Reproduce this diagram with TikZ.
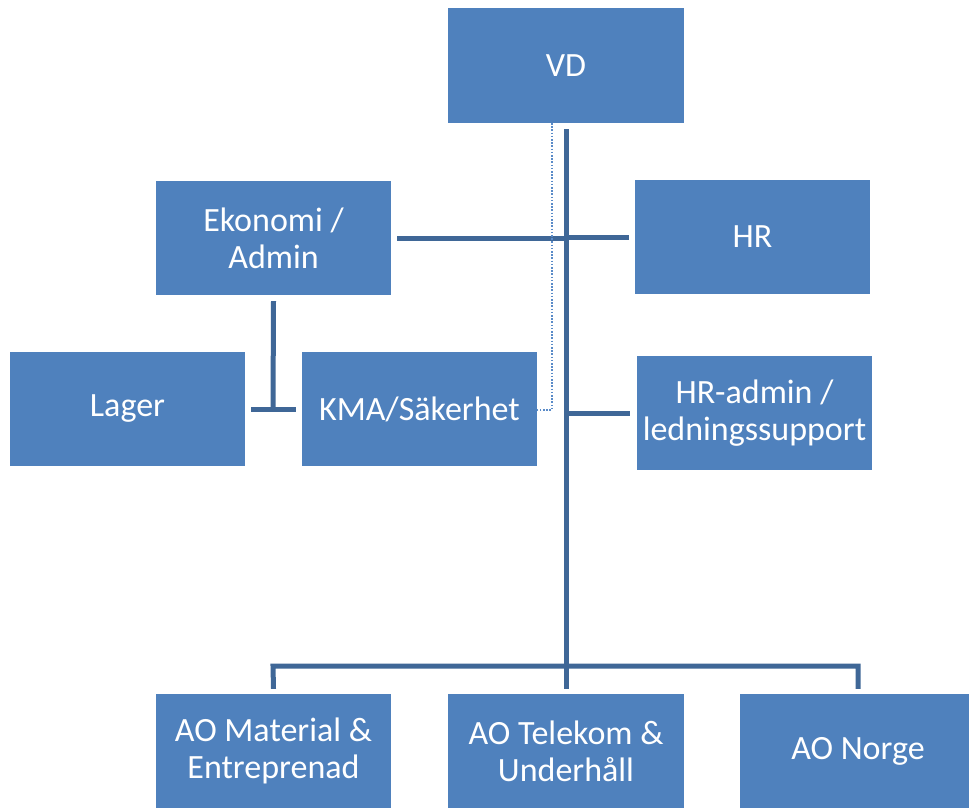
\documentclass[tikz,border=0pt]{standalone}
\usepackage{fontspec}
\setmainfont{Carlito}
\definecolor{boxblue}{HTML}{4F81BD}
\definecolor{lineblue}{HTML}{3F6797}
\definecolor{dotblue}{HTML}{5A8BC8}
\begin{document}
\begin{tikzpicture}[x=1pt,y=-1pt,
  orgbox/.style={fill=boxblue,draw=none,text=white,minimum width=235pt,minimum height=114pt,align=center,font=\fontsize{34}{37}\selectfont,inner sep=0pt},
  conn/.style={draw=lineblue,line width=5pt},
  dotconn/.style={draw=dotblue,line width=2pt,dash pattern=on 1.6pt off 1.6pt}]
\useasboundingbox (0,0) rectangle (969,807);
\node[orgbox,minimum width=236pt,minimum height=115pt] (vd) at (566,65.5) {VD};
\node[orgbox] (eko) at (273.5,238) {Ekonomi /\\Admin};
\node[orgbox] (hr) at (752.5,237) {HR};
\node[orgbox] (lager) at (127.5,409) {Lager};
\node[orgbox] (kma) at (419.5,409) {KMA/Säkerhet};
\node[orgbox] (hradm) at (754.5,413) {HR-admin /\\ledningssupport};
\node[orgbox] (aomat) at (273.5,751) {AO Material \&\\Entreprenad};
\node[orgbox,minimum width=236pt] (aotel) at (566,751) {AO Telekom \&\\Underhåll};
\node[orgbox,minimum width=236pt] (aonor) at (858,751) {AO Norge};
% junction coordinates
\coordinate (jtop) at (566,129);
\coordinate (jeko) at (566,238);
\coordinate (jhr) at (566,237);
\coordinate (jhra) at (566,413);
\coordinate (jbl) at (273,666);
\coordinate (jbr) at (858,666);
\coordinate (jeb) at (273,409);
\coordinate (dtop) at (552,123);
\coordinate (dcorner) at (552,410);
% main trunk
\draw[conn] (jtop) -- ([yshift=5pt]aotel.north);
\draw[conn] ([xshift=6pt]eko.east) -- (jeko);
\draw[conn] (jhr) -- ([xshift=-6pt]hr.west);
\draw[conn] (jhra) -- ([xshift=-7pt]hradm.west);
% bottom bracket
\draw[conn] ([yshift=5pt]aomat.north) -- (jbl) -- (jbr) -- ([yshift=5pt]aonor.north);
% Ekonomi to Lager / KMA
\draw[conn] ([yshift=-6pt]eko.south) -- (jeb);
\draw[conn] ([xshift=6pt]lager.east) -- ([xshift=-6pt]kma.west);
% dotted line
\draw[dotconn] (dtop) -- (dcorner) -- (kma.east |- dcorner);
\end{tikzpicture}
\end{document}
